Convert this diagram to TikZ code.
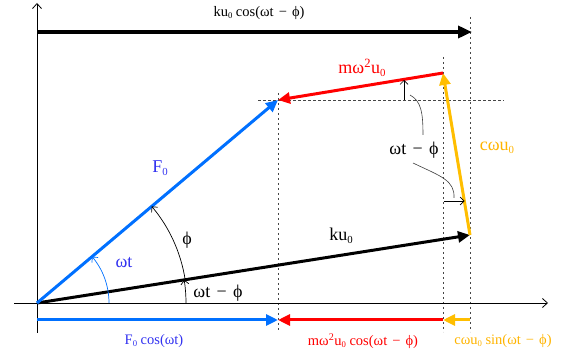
\documentclass[tikz,border=0pt]{standalone}
\usepackage{fontspec}
\setmainfont{Liberation Serif}
\usetikzlibrary{arrows.meta}
\definecolor{vblue}{RGB}{0,112,255}
\definecolor{lblue}{RGB}{50,50,240}
\definecolor{vred}{RGB}{255,0,0}
\definecolor{vgold}{RGB}{255,190,0}
\definecolor{lgold}{RGB}{255,180,0}
\definecolor{dgray}{RGB}{70,70,70}
\newcommand\fph{ϕ}
\newcommand\zsub{\raisebox{-0.35ex}{\scalebox{0.6}{0}}}
\newcommand\mns{\hspace{0.1em} − \hspace{0.1em}}
\begin{document}
\begin{tikzpicture}[x=1pt,y=-1pt,
  vec/.style={line width=3pt,-{Triangle[length=12pt,width=11pt]}},
  thinarr/.style={line width=0.7pt,-{Straight Barb[length=4pt,width=8pt]}},
  axisarr/.style={line width=0.8pt,-{Straight Barb[length=5pt,width=9pt]}},
  guide/.style={dgray,line width=0.6pt,dash pattern=on 2.5pt off 2.5pt},
  leader/.style={black!75,line width=0.6pt},
  lbl/.style={font=\fontsize{18}{20}\selectfont, inner sep=0pt},
  sml/.style={font=\fontsize{14.5}{16}\selectfont, inner sep=0pt}]
\useasboundingbox (0,0) rectangle (563,358);
% key points
\coordinate (O) at (37,303);
\coordinate (A) at (470,235);
\coordinate (B) at (443,73);
\coordinate (C) at (278,100);
\coordinate (xs) at (14,303);
\coordinate (xe) at (548,303);
\coordinate (ys) at (37,333);
\coordinate (ye) at (37,3);
\coordinate (T0) at (37,32);
\coordinate (T1) at (472,32);
% guides
\draw[guide] (278,93) -- (278,332);
\draw[guide] (443,57) -- (443,332);
\draw[guide] (470,17) -- (470,332);
\draw[guide] (258,100) -- (504,100);
% axes
\draw[axisarr] (xs) -- (xe);
\draw[axisarr] (ys) -- (ye);
% top arrow
\draw[line width=3.5pt,-{Triangle[length=14pt,width=12pt]}] (T0) -- (T1);
\node[sml] (ltop) at (259,13) {ku\zsub{} cos(ωt\mns\fph)};
% vectors
\draw[vec,black] (O) -- (A);
\draw[vec,vgold] (A) -- (B);
\draw[vec,vred] (B) -- (C);
\draw[vec,vblue] (O) -- (C);
% projections
\coordinate (P0) at (37,320);
\coordinate (P1) at (278,320);
\coordinate (P2) at (443,320);
\coordinate (P3) at (470,320);
\draw[vec,vblue] (P0) -- (P1);
\draw[vec,vred] (P2) -- (P1);
\draw[vec,vgold] (P3) -- (P2);
% angle arcs
\draw[thinarr,vblue] (O) ++(72,0) arc[start angle=0,end angle=-40.1,radius=72];
\draw[thinarr] (O) ++(-8.93:150) arc[start angle=-8.93,end angle=-40.1,radius=150];
\draw[thinarr] (O) ++(149,0) arc[start angle=0,end angle=-8.93,radius=149];
% small angle markers at the top
\coordinate (s0) at (404,100);
\coordinate (s1) at (404,80);
\draw[thinarr] (s0) -- (s1);
\coordinate (h0) at (444,201);
\coordinate (h1) at (464.5,201);
\draw[thinarr] (h0) -- (h1);
\draw[leader] (423,135) .. controls (423,112) and (421,101) .. (410,95);
\draw[leader] (413,163) .. controls (440,176) and (455,180) .. (454,198);
% labels
\node[lbl,vred] (lm) at (362,68) {mω\textsuperscript{2}u\zsub};
\node[lbl,lgold] (lc) at (497,148) {cωu\zsub};
\node[lbl] (lk) at (341,236) {ku\zsub};
\node[lbl,lblue] (lF) at (160,168) {F\zsub};
\node[lbl,lblue] (lwt) at (124,263) {ωt};
\node[lbl] (lphi) at (187,240) {\fph};
\node[lbl] (lwtp) at (218,293) {ωt\mns\fph};
\node[lbl] (lwtp2) at (414,150) {ωt\mns\fph};
\node[sml,lblue] (lb1) at (154,341) {F\zsub{} cos(ωt)};
\node[sml,vred] (lb2) at (363,341) {mω\textsuperscript{2}u\zsub{} cos(ωt\mns\fph)};
\node[sml,lgold] (lb3) at (503,341) {cωu\zsub{} sin(ωt\mns\fph)};
\end{tikzpicture}
\end{document}
